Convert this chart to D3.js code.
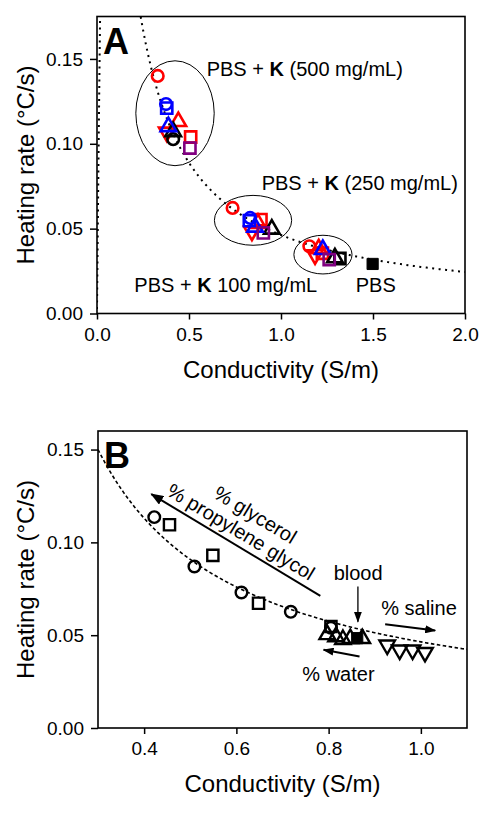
<!DOCTYPE html>
<html><head><meta charset="utf-8">
<script src="https://cdn.jsdelivr.net/npm/d3@7"></script>
<style>body{margin:0;background:#fff} svg text{font-family:"Liberation Sans",Arial,sans-serif;fill:#000}</style>
</head><body><svg id="c" width="493" height="816"></svg>
<script>
// ---------- Panel A data (conductivity S/m, heating rate °C/s) ----------
const aXTicks = [0.0, 0.5, 1.0, 1.5, 2.0];
const aYTicks = [0.00, 0.05, 0.10, 0.15];
const aRedCircle    = [[0.330,0.140],[0.737,0.0622],[1.154,0.0396]];
const aRedTriUp     = [[0.442,0.114],[0.875,0.0540],[1.205,0.0390]];
const aRedTriDown   = [[0.379,0.106],[0.842,0.0476],[1.185,0.0337]];
const aRedSquare    = [[0.509,0.104],[0.891,0.0553],[1.225,0.0355]];
const aBlackTriUp   = [[0.414,0.108],[0.950,0.0506],[1.293,0.0337]];
const aBlackCircle  = [[0.414,0.1027]];
const aBlackSquare  = [[1.320,0.0324]];
const aBlueCircle   = [[0.375,0.1234],[0.832,0.0563]];
const aBlueSquare   = [[0.379,0.121],[0.828,0.0547]];
const aBlueTriUp    = [[0.388,0.111],[0.859,0.0518],[1.227,0.0386]];
const aPurpleSquare = [[0.505,0.0975],[0.904,0.0475],[1.262,0.0318]];
const aPBS          = [[1.498,0.0292]];
// ellipses: [centerX, centerY, radiusX, radiusY]
const aEllipses = [[0.424,0.118,0.213,0.0309],[0.848,0.0549,0.210,0.0147],[1.228,0.0347,0.158,0.0114]];
// fit curve parameters: y = a*x/(x^2+d) + c
const aFit = {a:0.0438, d:0.004, c:0.0026};

// ---------- Panel B data ----------
const bXTicks = [0.4, 0.6, 0.8, 1.0];
const bYTicks = [0.00, 0.05, 0.10, 0.15];
const bCircles   = [[0.422,0.1136],[0.509,0.087],[0.611,0.073],[0.718,0.0626],[0.805,0.0540]];
const bSquares   = [[0.455,0.1095],[0.549,0.093],[0.648,0.0672],[0.805,0.0547]];
const bTriUp     = [[0.797,0.0511],[0.816,0.0500],[0.831,0.0485],[0.847,0.0490],[0.873,0.0490]];
const bTriDown   = [[0.927,0.0439],[0.954,0.0412],[0.982,0.0412],[1.009,0.0399]];
const bBlood     = [[0.862,0.0484]];
// fit curve parameters: y = b/x + c
const bFit = {b:0.0444, c:0.002};

const RED = "#ff0000", BLUE = "#0000ff", PURPLE = "#800080", BLACK = "#000000";
const FONT_TICK = 19, FONT_TITLE = 24, FONT_ANN = 20;

const svg = d3.select("#c");
const defs = svg.append("defs");
defs.append("marker").attr("id","ah").attr("markerUnits","userSpaceOnUse")
  .attr("markerWidth",13).attr("markerHeight",10).attr("refX",12).attr("refY",5)
  .attr("orient","auto").append("path").attr("d","M0,0 L13,5 L0,10 Z").attr("fill","#000");
defs.append("marker").attr("id","ahs").attr("markerUnits","userSpaceOnUse")
  .attr("markerWidth",11).attr("markerHeight",8).attr("refX",10).attr("refY",4)
  .attr("orient","auto").append("path").attr("d","M0,0 L11,4 L0,8 Z").attr("fill","#000");

function makePanel(id, xDom, yDom, left, right, top, bottom, xTicks, yTicks, xFmt, label) {
  const x = d3.scaleLinear().domain(xDom).range([left, right]);
  const y = d3.scaleLinear().domain(yDom).range([bottom, top]);
  defs.append("clipPath").attr("id","clip"+id).append("rect")
    .attr("x",left).attr("y",top).attr("width",right-left).attr("height",bottom-top);
  const g = svg.append("g");
  const xa = g.append("g").attr("transform",`translate(0,${bottom})`)
    .call(d3.axisBottom(x).tickValues(xTicks).tickFormat(d3.format(xFmt)).tickSize(6).tickPadding(8));
  const ya = g.append("g").attr("transform",`translate(${left},0)`)
    .call(d3.axisLeft(y).tickValues(yTicks).tickFormat(d3.format(".2f")).tickSize(7).tickPadding(7));
  [xa, ya].forEach(a => {
    a.select(".domain").remove();
    a.selectAll("line").attr("stroke","#000").attr("stroke-width",1.5);
    a.selectAll("text").attr("font-size",FONT_TICK).attr("font-family",null);
  });
  g.append("rect").attr("x",left).attr("y",top).attr("width",right-left).attr("height",bottom-top)
    .attr("fill","none").attr("stroke","#000").attr("stroke-width",1.6);
  g.append("text").attr("x",(left+right)/2).attr("y",bottom+64).attr("text-anchor","middle")
    .attr("font-size",FONT_TITLE).text("Conductivity (S/m)");
  g.append("text").attr("transform",`translate(34,${(top+bottom)/2}) rotate(-90)`).attr("text-anchor","middle")
    .attr("font-size",FONT_TITLE).text("Heating rate (°C/s)");
  g.append("text").attr("x",left+6).attr("y",top+37).attr("font-size",36).attr("font-weight","bold").text(label);
  return {x, y, g};
}

const symGen = {
  circle: d3.symbol().type(d3.symbolCircle).size(105),
  square: d3.symbol().type(d3.symbolSquare).size(125),
  triUp: d3.symbol().type(d3.symbolTriangle).size(105),
  triDown: d3.symbol().type(d3.symbolTriangle).size(105)
};
function drawSeries(P, data, shape, color, filled, sw) {
  P.g.append("g").selectAll("path").data(data).join("path")
    .attr("d", symGen[shape]())
    .attr("transform", d => `translate(${P.x(d[0])},${P.y(d[1]) + (shape==="triUp"?1.5:shape==="triDown"?-1.5:0)})` + (shape==="triDown"?" rotate(180)":""))
    .attr("fill", filled ? color : "none").attr("stroke", color).attr("stroke-width", sw);
}

// ---------- Panel A ----------
const A = makePanel("A", [0,2], [0,0.175], 97, 465, 16.5, 313.5, aXTicks, aYTicks, ".1f", "A");
{
  const xs = d3.range(0, 0.03, 0.0005).concat(d3.range(0.03, 2.0001, 0.01));
  const line = d3.line().x(s => A.x(s)).y(s => A.y(aFit.a*s/(s*s+aFit.d)+aFit.c));
  A.g.append("path").attr("d", line(xs)).attr("clip-path","url(#clipA)")
    .attr("fill","none").attr("stroke","#000").attr("stroke-width",2).attr("stroke-dasharray","2,4.5");
  A.g.selectAll(".ell").data(aEllipses).join("ellipse")
    .attr("cx", d => A.x(d[0])).attr("cy", d => A.y(d[1]))
    .attr("rx", d => A.x(d[0]+d[2]) - A.x(d[0])).attr("ry", d => A.y(d[1]) - A.y(d[1]+d[3]))
    .attr("fill","none").attr("stroke","#000").attr("stroke-width",1);
  drawSeries(A, aRedSquare, "square", RED, false, 2.6);
  drawSeries(A, aRedTriUp, "triUp", RED, false, 2.6);
  drawSeries(A, aRedTriDown, "triDown", RED, false, 2.6);
  drawSeries(A, aRedCircle, "circle", RED, false, 2.6);
  drawSeries(A, aBlackSquare, "square", BLACK, false, 2.6);
  drawSeries(A, aBlackTriUp, "triUp", BLACK, false, 2.6);
  drawSeries(A, aBlackCircle, "circle", BLACK, false, 2.6);
  drawSeries(A, aBlueCircle, "circle", BLUE, false, 2.6);
  drawSeries(A, aBlueSquare, "square", BLUE, false, 2.6);
  drawSeries(A, aBlueTriUp, "triUp", BLUE, false, 2.6);
  drawSeries(A, aPurpleSquare, "square", PURPLE, false, 2.6);
  drawSeries(A, aPBS, "square", BLACK, true, 1);
  const ann = (sx, hy, parts) => {
    const t = A.g.append("text").attr("x", A.x(sx)).attr("y", A.y(hy)).attr("font-size", FONT_ANN);
    parts.forEach(p => t.append("tspan").attr("font-weight", p[1] ? "bold" : null).text(p[0]));
  };
  ann(0.596, 0.1400, [["PBS + ",0],["K",1],[" (500 mg/mL)",0]]);
  ann(0.895, 0.0729, [["PBS + ",0],["K",1],[" (250 mg/mL)",0]]);
  ann(0.203, 0.0128, [["PBS + ",0],["K",1],[" 100 mg/mL",0]]);
  ann(1.406, 0.0128, [["PBS",0]]);
}

// ---------- Panel B ----------
const B = makePanel("B", [0.3,1.1], [0,0.16], 98, 467, 431, 728, bXTicks, bYTicks, ".1f", "B");
{
  const xs = d3.range(0.3, 1.1001, 0.005);
  const line = d3.line().x(s => B.x(s)).y(s => B.y(bFit.b/s + bFit.c));
  B.g.append("path").attr("d", line(xs)).attr("clip-path","url(#clipB)")
    .attr("fill","none").attr("stroke","#000").attr("stroke-width",1.6).attr("stroke-dasharray","3.5,2.5");
  drawSeries(B, bCircles, "circle", BLACK, false, 2.4);
  drawSeries(B, bSquares, "square", BLACK, false, 2.4);
  drawSeries(B, bTriUp, "triUp", BLACK, false, 2.4);
  drawSeries(B, bTriDown, "triDown", BLACK, false, 2.4);
  drawSeries(B, bBlood, "square", BLACK, true, 1);

  // glycerol / propylene glycol arrow
  const p0 = [B.x(0.782), B.y(0.0712)], p1 = [B.x(0.4155), B.y(0.126)];
  B.g.append("line").attr("x1",p0[0]).attr("y1",p0[1]).attr("x2",p1[0]).attr("y2",p1[1])
    .attr("stroke","#000").attr("stroke-width",2).attr("marker-end","url(#ah)");
  const ang = Math.atan2(p0[1]-p1[1], p0[0]-p1[0]) * 180 / Math.PI;
  B.g.append("text").attr("transform",`translate(${B.x(0.641)},${B.y(0.1149)}) rotate(${ang})`)
    .attr("text-anchor","middle").attr("dy","0.35em").attr("font-size",FONT_ANN).text("% glycerol");
  B.g.append("text").attr("transform",`translate(${B.x(0.610)},${B.y(0.1057)}) rotate(${ang})`)
    .attr("text-anchor","middle").attr("dy","0.35em").attr("font-size",FONT_ANN).text("% propylene glycol");
  // blood
  B.g.append("text").attr("x",B.x(0.864)).attr("y",B.y(0.0798)).attr("text-anchor","middle")
    .attr("font-size",FONT_ANN).text("blood");
  B.g.append("line").attr("x1",B.x(0.8635)).attr("y1",B.y(0.0762)).attr("x2",B.x(0.8635)).attr("y2",B.y(0.0573))
    .attr("stroke","#000").attr("stroke-width",1.3).attr("marker-end","url(#ahs)");
  // saline
  B.g.append("text").attr("x",B.x(0.914)).attr("y",B.y(0.0610)).attr("font-size",FONT_ANN).text("% saline");
  B.g.append("line").attr("x1",B.x(0.9225)).attr("y1",B.y(0.0559)).attr("x2",B.x(1.031)).attr("y2",B.y(0.0525))
    .attr("stroke","#000").attr("stroke-width",2).attr("marker-end","url(#ahs)");
  // water
  B.g.append("text").attr("x",B.x(0.743)).attr("y",B.y(0.0255)).attr("font-size",FONT_ANN).text("% water");
  B.g.append("line").attr("x1",B.x(0.867)).attr("y1",B.y(0.0385)).attr("x2",B.x(0.789)).attr("y2",B.y(0.0421))
    .attr("stroke","#000").attr("stroke-width",2).attr("marker-end","url(#ahs)");
}
</script></body></html>
